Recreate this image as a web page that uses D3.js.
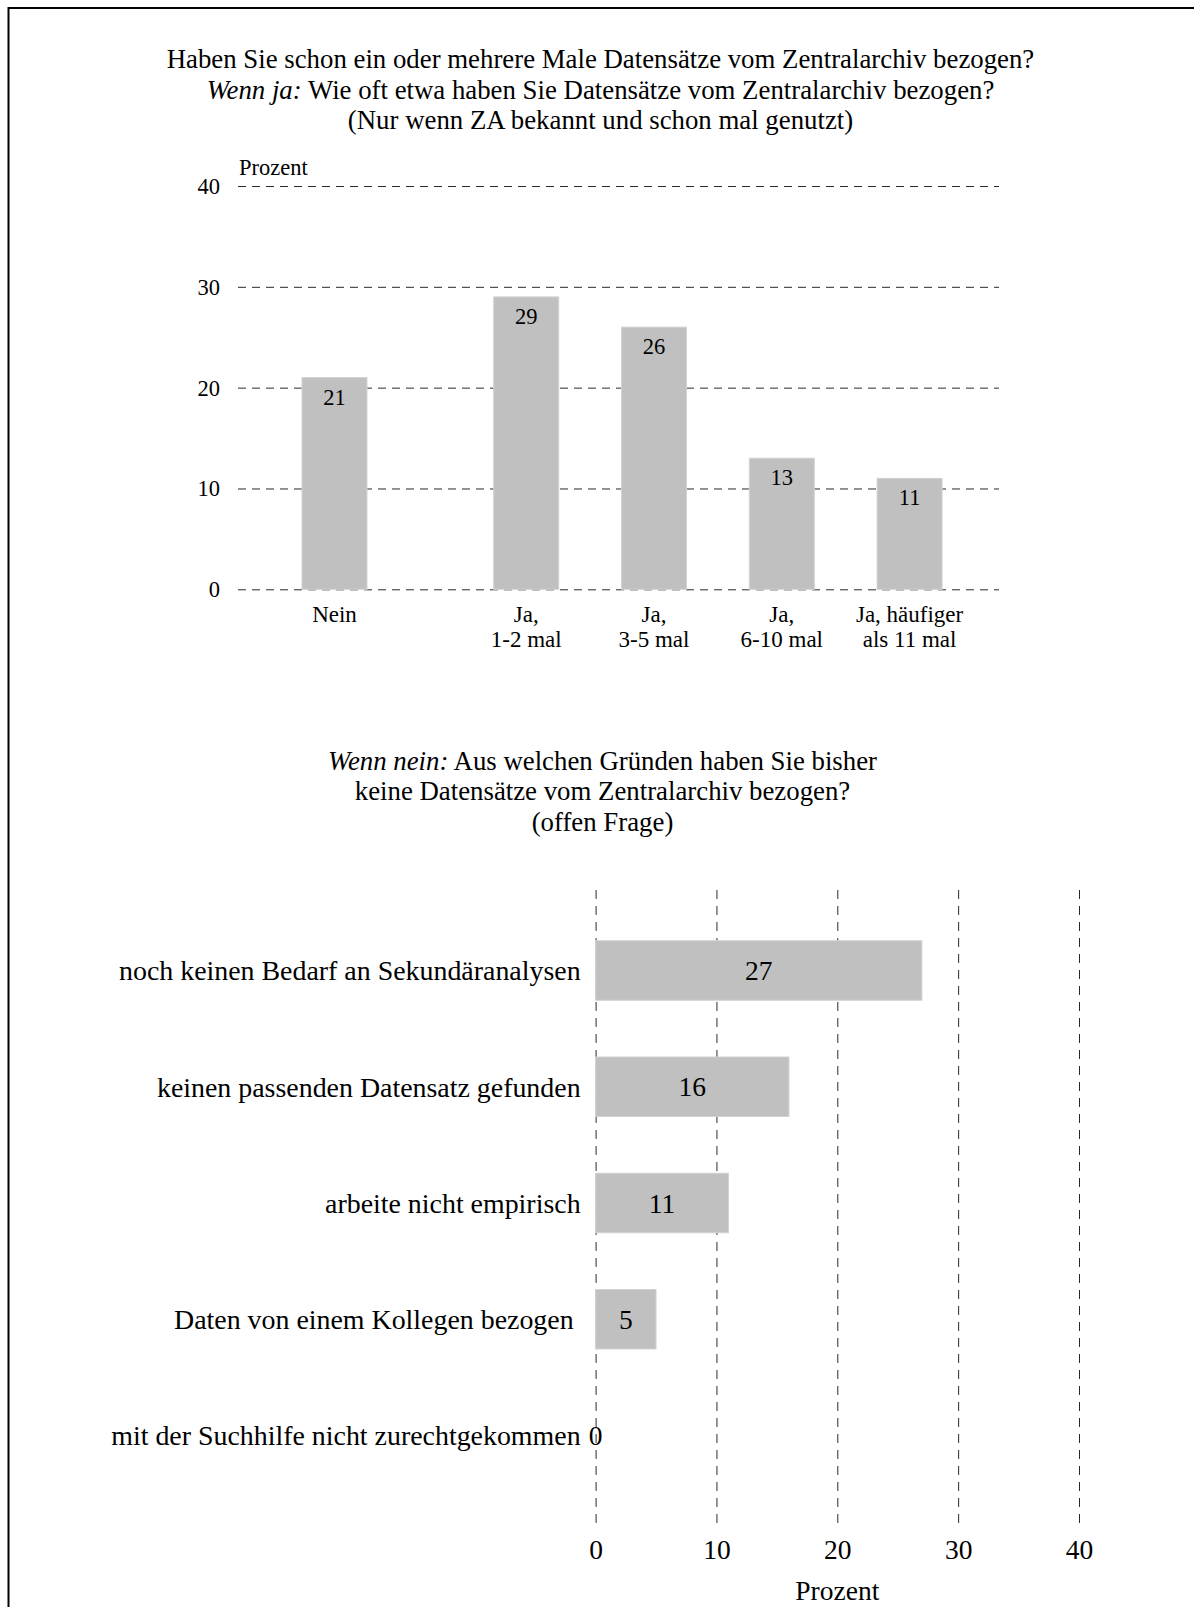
<!DOCTYPE html>
<html><head><meta charset="utf-8">
<script src="https://cdn.jsdelivr.net/npm/d3@7"></script>
<style>
body{margin:0;background:#fff}
svg{display:block}
text{font-family:"Liberation Serif","Times New Roman",serif;fill:#000}
</style>
</head><body>
<svg id="c" width="1194" height="1607"></svg>
<script>
// ---------- data ----------
const titleTop = [
  ["", "Haben Sie schon ein oder mehrere Male Datensätze vom Zentralarchiv bezogen?"],
  ["Wenn ja:", " Wie oft etwa haben Sie Datensätze vom Zentralarchiv bezogen?"],
  ["", "(Nur wenn ZA bekannt und schon mal genutzt)"]
];
const titleBottom = [
  ["Wenn nein:", " Aus welchen Gründen haben Sie bisher"],
  ["", "keine Datensätze vom Zentralarchiv bezogen?"],
  ["", "(offen Frage)"]
];
const topCategories = ["Nein", "Ja, 1-2 mal", "Ja, 3-5 mal", "Ja, 6-10 mal", "Ja, häufiger als 11 mal"];
const topLabelLines = [["Nein"], ["Ja,", "1-2 mal"], ["Ja,", "3-5 mal"], ["Ja,", "6-10 mal"], ["Ja, häufiger", "als 11 mal"]];
const topGroups = ["nein", "ja", "ja", "ja", "ja"];
const topValues = [21, 29, 26, 13, 11];
const topTicks = [0, 10, 20, 30, 40];
const topAxisLabel = "Prozent";

const bottomCategories = [
  "noch keinen Bedarf an Sekundäranalysen",
  "keinen passenden Datensatz gefunden",
  "arbeite nicht empirisch",
  "Daten von einem Kollegen bezogen\u00a0",
  "mit der Suchhilfe nicht zurechtgekommen"
];
const bottomValues = [27, 16, 11, 5, 0];
const bottomTicks = [0, 10, 20, 30, 40];
const bottomAxisLabel = "Prozent";

// ---------- drawing ----------
const svg = d3.select("#c");
const BAR = "#c0c0c0", BAR_EDGE = "#d2d2d2", GRID = "#2a2a2a";

// frame
svg.append("path").attr("d", "M8.5,1607V8H1194").attr("fill", "none").attr("stroke", "#000").attr("stroke-width", 2);

function title(lines, cx, y0, lh, fs) {
  lines.forEach((l, i) => {
    const t = svg.append("text").attr("x", cx).attr("y", y0 + i * lh)
      .attr("text-anchor", "middle").attr("font-size", fs);
    if (l[0]) t.append("tspan").attr("font-style", "italic").text(l[0]);
    t.append("tspan").text(l[1]);
  });
}
title(titleTop, 600.5, 68, 30.7, 26.8);
title(titleBottom, 602.5, 769.5, 30.5, 26.8);

// ----- top chart -----
const yTop = d3.scaleLinear().domain([0, 40]).range([589.3, 186]);
const xTop = d3.scaleBand().domain(topCategories).range([334.5, 973.5])
  .paddingInner(0.4914).paddingOuter(0.2457);
const gridL = 238, gridR = 999;
const xPos = (c, i) => xTop(c) + (topGroups[i] === "nein" ? -xTop.step() / 2 : 0);

const yAx = svg.append("g").attr("transform", `translate(${gridL},0)`)
  .call(d3.axisLeft(yTop).tickValues(topTicks).tickSize(-(gridR - gridL)).tickPadding(18));
yAx.select(".domain").remove();
yAx.selectAll(".tick line").attr("stroke", GRID).attr("stroke-dasharray", "8,6");
yAx.selectAll(".tick text").attr("font-size", 22.5).attr("font-family", "Liberation Serif").attr("fill", "#000").attr("dy", "0.33em");

svg.append("text").attr("x", 239).attr("y", 175).attr("font-size", 22.5).text(topAxisLabel);

svg.append("g").selectAll("rect").data(topCategories).join("rect")
  .attr("x", (c, i) => xPos(c, i)).attr("y", (c, i) => yTop(topValues[i]))
  .attr("width", xTop.bandwidth()).attr("height", (c, i) => yTop(0) - yTop(topValues[i]))
  .attr("fill", BAR).attr("stroke", BAR_EDGE).attr("stroke-width", 1);

svg.append("g").selectAll("text").data(topCategories).join("text")
  .attr("x", (c, i) => xPos(c, i) + xTop.bandwidth() / 2)
  .attr("y", (c, i) => yTop(topValues[i]) + 27)
  .attr("text-anchor", "middle").attr("font-size", 22.5)
  .text((c, i) => topValues[i]);

topCategories.forEach((c, i) => {
  const t = svg.append("text").attr("text-anchor", "middle").attr("font-size", 23);
  topLabelLines[i].forEach((ln, j) => {
    t.append("tspan").attr("x", xPos(c, i) + xTop.bandwidth() / 2).attr("y", 621.7 + j * 25).text(ln);
  });
});

// ----- bottom chart -----
const xBot = d3.scaleLinear().domain([0, 40]).range([595.6, 1079]);
const yBot = d3.scaleBand().domain(bottomCategories).range([884, 1522]).padding(0.488);
const gridT = 883, gridB = 1523;

const xAx = svg.append("g").attr("transform", `translate(0,${gridB})`)
  .call(d3.axisBottom(xBot).tickValues(bottomTicks).tickSize(-(gridB - gridT)).tickPadding(0));
xAx.select(".domain").remove();
xAx.selectAll(".tick line").attr("stroke", GRID).attr("stroke-dasharray", "9,7");
xAx.selectAll(".tick text").attr("font-size", 27.5).attr("font-family", "Liberation Serif").attr("fill", "#000")
  .attr("dy", null).attr("y", 35.5);

svg.append("text").attr("x", xBot(20)).attr("y", 1600).attr("text-anchor", "middle")
  .attr("font-size", 27.5).text(bottomAxisLabel);

svg.append("g").selectAll("rect").data(bottomCategories).join("rect")
  .attr("x", xBot(0)).attr("y", c => yBot(c))
  .attr("width", (c, i) => xBot(bottomValues[i]) - xBot(0)).attr("height", yBot.bandwidth())
  .attr("fill", BAR).attr("stroke", BAR_EDGE).attr("stroke-width", 1);

svg.append("g").selectAll("text").data(bottomCategories).join("text")
  .attr("x", (c, i) => (xBot(0) + xBot(bottomValues[i])) / 2)
  .attr("y", c => yBot(c) + yBot.bandwidth() / 2).attr("dy", "0.35em")
  .attr("text-anchor", "middle").attr("font-size", 27.5)
  .text((c, i) => bottomValues[i]);

svg.append("g").selectAll("text").data(bottomCategories).join("text")
  .attr("x", xBot(0) - 15)
  .attr("y", c => yBot(c) + yBot.bandwidth() / 2).attr("dy", "0.35em")
  .attr("text-anchor", "end").attr("font-size", 27.9)
  .text(c => c);
</script>
</body></html>
